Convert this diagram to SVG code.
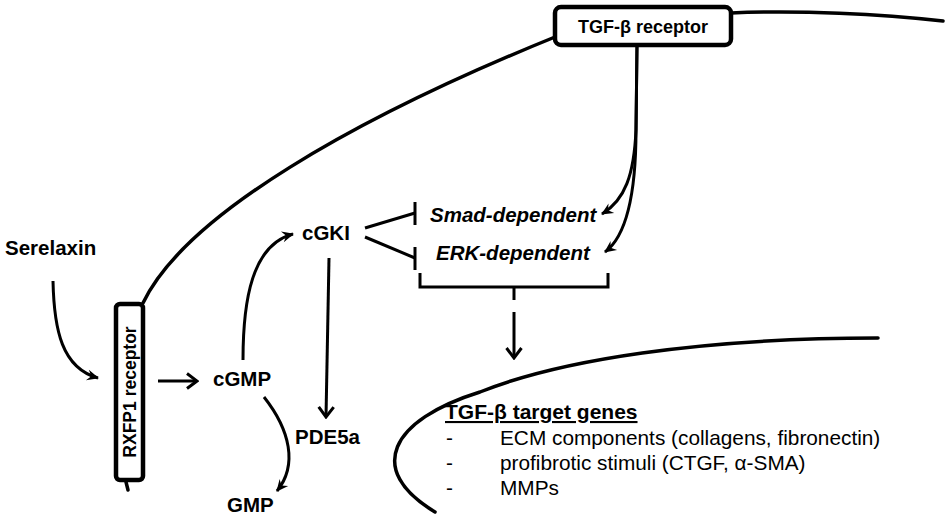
<svg xmlns="http://www.w3.org/2000/svg" width="950" height="517" viewBox="0 0 950 517">
<style>
text{font-family:"Liberation Sans",Arial,sans-serif;fill:#000}
.b{font-weight:bold;font-size:20.5px}
.bi{font-weight:bold;font-style:italic;font-size:20.5px}
.r{font-size:20.8px}
.mem{fill:none;stroke:#000;stroke-width:3.5;stroke-linecap:round}
.ln{fill:none;stroke:#000;stroke-width:3}
.box{fill:#fff;stroke:#000;stroke-width:4.5}
</style>
<defs>
<marker id="v" viewBox="-13 -9 15 18" refX="0" refY="0" markerWidth="15" markerHeight="18" markerUnits="userSpaceOnUse" orient="auto"><path d="M-10,-7.5 L0,0 L-10,7.5" fill="none" stroke="#000" stroke-width="3"/></marker>
<marker id="f" viewBox="-13 -7 14 14" refX="0" refY="0" markerWidth="14" markerHeight="14" markerUnits="userSpaceOnUse" orient="auto"><path d="M1,0 L-11,-5.5 L-7,0 L-11,5.5 Z" fill="#000"/></marker>
</defs>
<g id="membranes">
<path class="mem" d="M143,303 C185,215 355,118 555,37"/>
<path class="mem" d="M731,13 C800,10 880,14 943,21"/>
<path class="mem" d="M126,482 L128,490"/>
<path class="mem" d="M878,338 C700,338 560,360 480,392 C390,420 365,470 435,512"/>
</g>
<g id="connectors">
<path class="ln" d="M53,281 C54,330 62,368 98,378" marker-end="url(#f)"/>
<path class="ln" d="M158,381 L197,381" marker-end="url(#v)"/>
<path class="ln" d="M243,360 C243,300 252,245 293,234" marker-end="url(#f)"/>
<path class="ln" d="M264,397 C290,430 298,465 277,491" marker-end="url(#f)"/>
<path class="ln" d="M329,258 L326,417" marker-end="url(#v)"/>
<path class="ln" d="M365,228 L415,213"/>
<path class="ln" d="M415,202 L415,225"/>
<path class="ln" d="M365,237 L415,258"/>
<path class="ln" d="M415,247 L415,270"/>
<path class="ln" d="M637,45 L636,130 C634,175 625,200 602,214" marker-end="url(#f)"/>
<path class="ln" d="M637,45 L636,130 C636,190 628,235 605,252" marker-end="url(#f)"/>
<path class="ln" d="M420,273 L420,287 L608,287 L608,273"/>
<path class="ln" d="M514,287 L514,300"/>
<path class="ln" d="M514,312 L514,358" marker-end="url(#v)"/>
</g>
<g id="tgfr">
<rect class="box" x="555" y="7" width="176" height="38" rx="6"/>
<text x="643" y="33" text-anchor="middle" style="font-weight:bold;font-size:18px">TGF-β receptor</text>
</g>
<g id="rxfp1">
<rect class="box" x="116" y="304" width="27" height="176" rx="4"/>
<text transform="translate(136,392) rotate(-90)" text-anchor="middle" style="font-weight:bold;font-size:17.5px">RXFP1 receptor</text>
</g>
<g id="serelaxin"><text class="b" x="5" y="255">Serelaxin</text></g>
<g id="cgmp"><text class="b" x="213" y="386">cGMP</text></g>
<g id="cgki"><text class="b" x="302" y="240">cGKI</text></g>
<g id="pde5a"><text class="b" x="295" y="444">PDE5a</text></g>
<g id="gmp"><text class="b" x="227" y="512">GMP</text></g>
<g id="smad"><text class="bi" x="430" y="222">Smad-dependent</text></g>
<g id="erk"><text class="bi" x="436" y="260">ERK-dependent</text></g>
<g id="genes">
<text x="445" y="419" style="font-weight:bold;font-size:21px;text-decoration:underline">TGF-β target genes</text>
<text class="r" x="446" y="445">-</text>
<text class="r" x="500" y="445">ECM components (collagens, fibronectin)</text>
<text class="r" x="446" y="470">-</text>
<text class="r" x="500" y="470">profibrotic stimuli (CTGF, α-SMA)</text>
<text class="r" x="446" y="495">-</text>
<text class="r" x="500" y="495">MMPs</text>
</g>
</svg>
